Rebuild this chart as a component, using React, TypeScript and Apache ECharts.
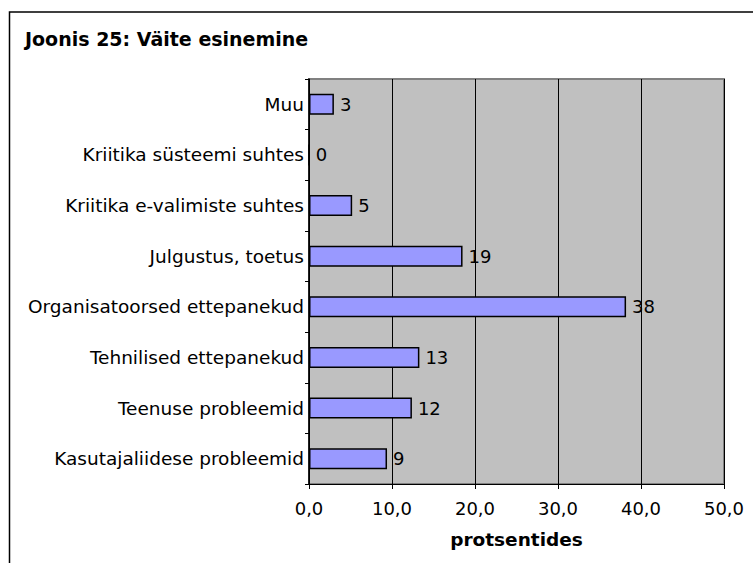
import React, { useEffect, useRef } from "react";
import * as echarts from "echarts";

const title = "Joonis 25: Väite esinemine";
const axisName = "protsentides";
const categories = [
  "Muu",
  "Kriitika süsteemi suhtes",
  "Kriitika e-valimiste suhtes",
  "Julgustus, toetus",
  "Organisatoorsed ettepanekud",
  "Tehnilised ettepanekud",
  "Teenuse probleemid",
  "Kasutajaliidese probleemid",
];
const values = [3.0, 0, 5.2, 18.5, 38.2, 13.3, 12.4, 9.4];
const xMin = 0;
const xMax = 50;
const xStep = 10;

const FONT = "'DejaVu Sans', Verdana, sans-serif";

export default function App() {
  const ref = useRef<HTMLDivElement>(null);
  useEffect(() => {
    if (!ref.current) return;
    const chart = echarts.init(ref.current, undefined, { renderer: "svg" });
    chart.setOption({
      animation: false,
      backgroundColor: "#ffffff",
      textStyle: { fontFamily: FONT },
      graphic: [
        {
          type: "rect",
          shape: { x: 9.5, y: 12, width: 800, height: 600 },
          style: { fill: "none", stroke: "#000", lineWidth: 1.5 },
          z: 100,
        },
        {
          type: "text",
          left: 25,
          top: 29,
          style: {
            text: title,
            font: `bold 19px ${FONT}`,
            fill: "#000",
          },
        },
      ],
      grid: {
        left: 309,
        right: 29,
        top: 79,
        bottom: 79,
        show: true,
        backgroundColor: "#c0c0c0",
        borderColor: "#808080",
        borderWidth: 2,
      },
      xAxis: {
        type: "value",
        min: xMin,
        max: xMax,
        interval: xStep,
        name: axisName,
        nameLocation: "middle",
        nameGap: 46,
        nameTextStyle: { fontFamily: FONT, fontWeight: "bold", fontSize: 18.5, color: "#000" },
        axisLine: { show: true, lineStyle: { color: "#000", width: 1 } },
        axisTick: { show: true, length: 5, lineStyle: { color: "#000" } },
        axisLabel: {
          margin: 15,
          fontSize: 18,
          color: "#000",
          fontFamily: FONT,
          formatter: (v: number) => v.toFixed(1).replace(".", ","),
        },
        splitLine: { show: true, lineStyle: { color: "#000", width: 1 } },
      },
      yAxis: {
        type: "category",
        data: categories,
        inverse: true,
        axisLine: { show: true, lineStyle: { color: "#000", width: 1.5 } },
        axisTick: { show: true, length: 4, lineStyle: { color: "#000" } },
        axisLabel: { margin: 5, fontSize: 18.5, color: "#000", fontFamily: FONT },
        splitLine: { show: false },
      },
      series: [
        {
          type: "bar",
          data: values,
          barWidth: 21,
          itemStyle: { color: "#9999ff", borderColor: "#000", borderWidth: 1.5 },
          label: {
            show: true,
            position: "right",
            distance: 6,
            fontSize: 18,
            color: "#000",
            fontFamily: FONT,
            formatter: (p: any) => String(Math.round(p.value)),
          },
        },
      ],
    });
    return () => chart.dispose();
  }, []);
  return (
    <div
      ref={ref}
      style={{ position: "fixed", left: 0, top: 0, width: 753, height: 563 }}
    />
  );
}
